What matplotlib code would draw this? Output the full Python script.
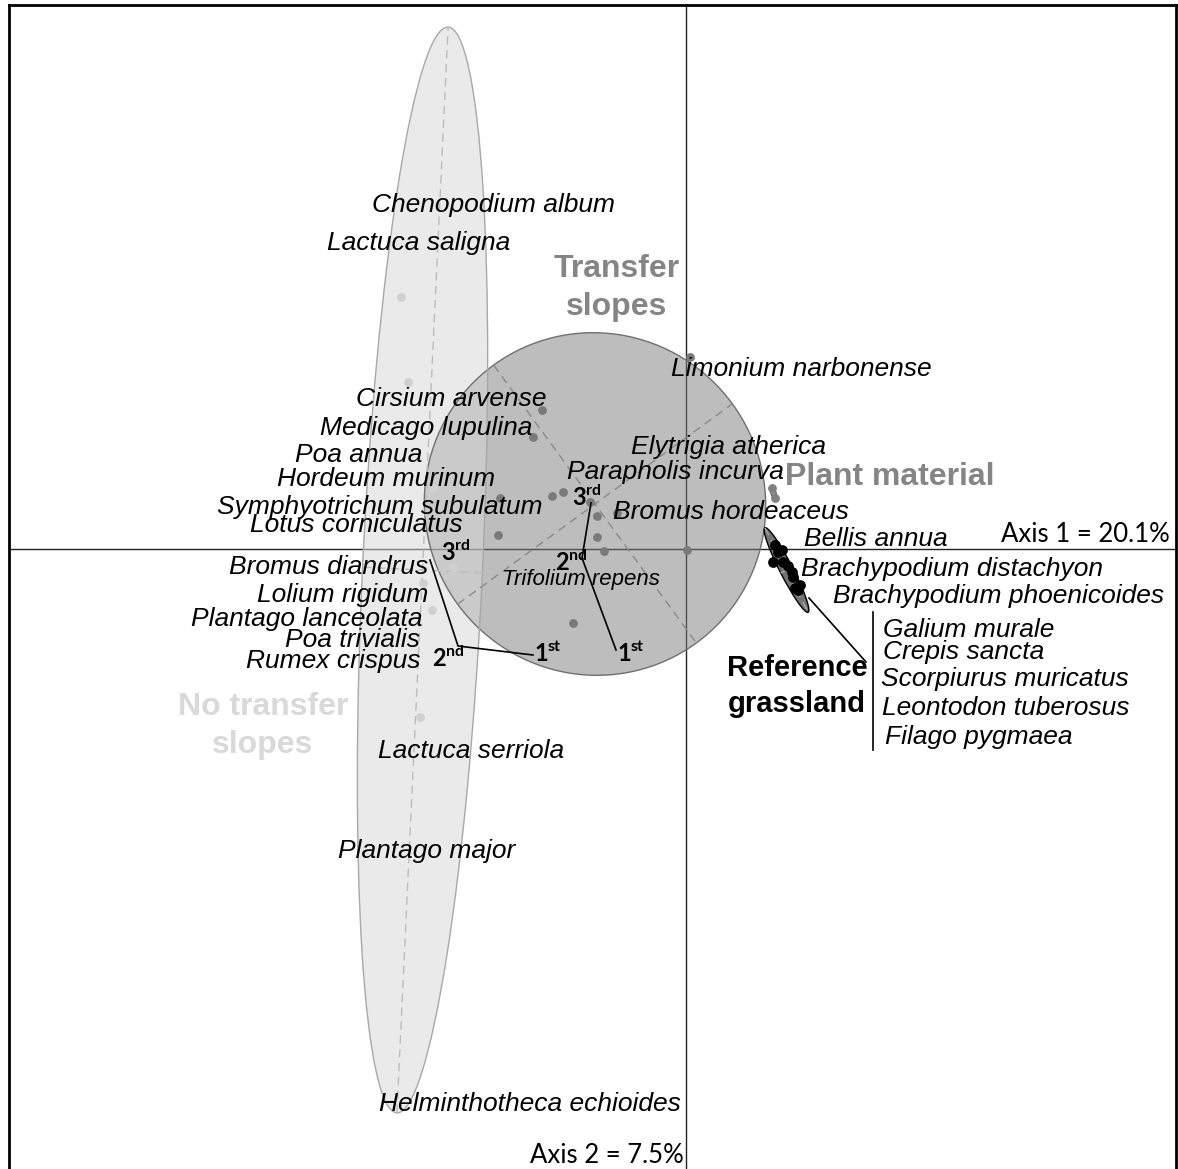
import numpy as np
import matplotlib
matplotlib.use('Agg')
import matplotlib.pyplot as plt
from matplotlib.patches import Ellipse

# Species labels (ordination scores, axis 1 / axis 2)
species = ['Chenopodium album', 'Lactuca saligna', 'Limonium narbonense', 'Cirsium arvense',
           'Medicago lupulina', 'Poa annua', 'Elytrigia atherica', 'Hordeum murinum',
           'Parapholis incurva', 'Symphyotrichum subulatum', 'Bromus hordeaceus',
           'Lotus corniculatus', 'Bellis annua', 'Bromus diandrus', 'Brachypodium distachyon',
           'Brachypodium phoenicoides', 'Lolium rigidum', 'Plantago lanceolata', 'Galium murale',
           'Poa trivialis', 'Crepis sancta', 'Rumex crispus', 'Scorpiurus muricatus',
           'Leontodon tuberosus', 'Filago pygmaea', 'Lactuca serriola', 'Plantago major',
           'Helminthotheca echioides']
species_x = [-1.92, -2.67, 1.15, -2.35, -2.60, -3.27, 0.43, -3.00, -0.11, -3.06, 0.45, -3.30,
             1.90, -3.57, 2.66, 3.13, -3.43, -3.79, 2.83, -3.33, 2.78, -3.53, 3.19, 3.20, 2.93,
             -2.15, -2.59, -1.56]
species_y = [3.44, 3.06, 1.80, 1.50, 1.21, 0.94, 1.02, 0.70, 0.77, 0.42, 0.37, 0.24, 0.10,
             -0.18, -0.20, -0.47, -0.46, -0.70, -0.81, -0.91, -1.03, -1.12, -1.30, -1.59,
             -1.88, -2.02, -3.02, -5.55]
small_species = ['Trifolium repens']
small_x = [-1.05]
small_y = [-0.31]

# Site scores per group
no_transfer_x = [-2.85, -2.78, -2.53, -2.34, -2.33, -2.63, -2.54, -2.66]
no_transfer_y = [2.52, 1.67, 0.61, 0.06, -0.18, -0.34, -0.61, -1.68]
transfer_x = [-1.44, -1.53, -1.86, -1.88, -1.34, -1.23, -0.96, -0.89, -0.89, -0.82, -1.13,
              -0.69, 0.01, 0.04]
transfer_y = [1.39, 1.12, 0.51, 0.14, 0.53, 0.57, 0.47, 0.33, 0.12, -0.02, -0.74, 0.36,
              -0.01, 1.92]
plant_x = [0.86, 0.89]
plant_y = [0.61, 0.51]
reference_x = [0.89, 0.96, 0.87, 0.97, 1.06, 1.07, 1.14, 1.09, 1.12, 1.02, 0.92]
reference_y = [0.04, -0.01, -0.13, -0.13, -0.23, -0.28, -0.36, -0.39, -0.41, -0.17, -0.03]

# Group ellipses: centre x, centre y, width, height, angle
ell_groups = ['No transfer slopes', 'Transfer slopes', 'Reference grassland', 'Plant material']
ell_cx = [-2.635, -0.91, 1.005, 0.875]
ell_cy = [-0.21, 0.45, -0.21, 0.56]
ell_w = [10.87, 3.44, 0.95, 0.13]
ell_h = [1.20, 3.40, 0.13, 0.05]
ell_ang = [87.3, -53.9, -62.9, -73.0]

# Trajectories (1st -> 2nd -> 3rd years)
traj_left_x = [-2.56, -2.28, -1.53]
traj_left_y = [-0.11, -0.97, -1.06]
traj_right_x = [-0.95, -1.04, -0.70]
traj_right_y = [0.46, -0.09, -1.01]
ordinal_txt = [('3', 'rd'), ('2', 'nd'), ('1', 'st'), ('3', 'rd'), ('2', 'nd'), ('1', 'st')]
ordinal_x = [-2.34, -2.43, -1.41, -1.03, -1.20, -0.58]
ordinal_y = [-0.03, -1.09, -1.04, 0.52, -0.13, -1.04]

fig = plt.figure(figsize=(11.78, 11.69), dpi=100)
ax = fig.add_axes([9 / 1178, 0, 1167 / 1178, 1 - 5 / 1169])
ax.set_xlim(-6.77, 4.90)
ax.set_ylim(-6.20, 5.44)
ax.set_xticks([])
ax.set_yticks([])
for s in ['left', 'top', 'right']:
    ax.spines[s].set_linewidth(2)
ax.spines['bottom'].set_visible(False)

# Axes lines
ax.axhline(0, color='#222222', lw=1, zorder=1)
ax.axvline(0, color='#222222', lw=1, zorder=1)

# Ellipses (draw order: transfer, no transfer, plant, reference)
styles = {
    'Transfer slopes': dict(fc='#7d7d7d', ec='#707070', alpha=0.5, axc='#8a8a8a'),
    'No transfer slopes': dict(fc='#d7d7d7', ec='#a8a8a8', alpha=0.5, axc='#bcbcbc'),
    'Plant material': dict(fc='#808080', ec='#606060', alpha=0.8, axc='#909090'),
    'Reference grassland': dict(fc='#000000', ec='#000000', alpha=0.55, axc='#aaaaaa'),
}
for name in ['Transfer slopes', 'No transfer slopes', 'Plant material', 'Reference grassland']:
    i = ell_groups.index(name)
    st = styles[name]
    e = Ellipse((ell_cx[i], ell_cy[i]), ell_w[i], ell_h[i], angle=ell_ang[i],
                facecolor=st['fc'], edgecolor='none', alpha=st['alpha'], zorder=2)
    ax.add_patch(e)
    e2 = Ellipse((ell_cx[i], ell_cy[i]), ell_w[i], ell_h[i], angle=ell_ang[i],
                 facecolor='none', edgecolor=st['ec'], lw=1, zorder=2.1)
    ax.add_patch(e2)
    a = np.deg2rad(ell_ang[i])
    for half, ang in [(ell_w[i] / 2, a), (ell_h[i] / 2, a + np.pi / 2)]:
        dx, dy = half * np.cos(ang), half * np.sin(ang)
        ax.plot([ell_cx[i] - dx, ell_cx[i] + dx], [ell_cy[i] - dy, ell_cy[i] + dy],
                ls=(0, (6, 4)), color=st['axc'], lw=1, zorder=2.2)

# Points
ax.scatter(transfer_x, transfer_y, s=40, color='#7a7a7a', zorder=3, linewidths=0)
ax.scatter(no_transfer_x, no_transfer_y, s=40, color='#d0d0d0', zorder=3, linewidths=0)
ax.scatter(plant_x, plant_y, s=40, color='#808080', zorder=3, linewidths=0)
ax.scatter(reference_x, reference_y, s=60, color='black', zorder=3, linewidths=0)

# Trajectories
ax.plot(traj_left_x, traj_left_y, color='black', lw=1.2, zorder=4)
ax.plot(traj_right_x, traj_right_y, color='black', lw=1.2, zorder=4)
ax.plot([1.23, 1.80], [-0.49, -1.13], color='black', lw=1.2, zorder=4)
ax.plot([1.87, 1.87], [-0.63, -2.01], color='black', lw=1.2, zorder=4)

# Species names
for name, x, y in zip(species, species_x, species_y):
    ax.text(x, y, name, fontsize=19, style='italic', family='Liberation Sans',
            ha='center', va='center', zorder=5)
for name, x, y in zip(small_species, small_x, small_y):
    ax.text(x, y, name, fontsize=16, style='italic', family='Liberation Sans',
            ha='center', va='center', zorder=5)

# Group labels
ax.text(-0.69, 2.61, 'Transfer\nslopes', fontsize=23, weight='bold', color='#858585',
        family='Liberation Sans', ha='center', va='center', linespacing=1.32, zorder=5)
ax.text(2.04, 0.72, 'Plant material', fontsize=23, weight='bold', color='#858585',
        family='Liberation Sans', ha='center', va='center', zorder=5)
ax.text(-4.23, -1.77, 'No transfer\nslopes', fontsize=23, weight='bold', color='#d9d9d9',
        family='Liberation Sans', ha='center', va='center', linespacing=1.32, zorder=5)
ax.text(1.11, -1.37, 'Reference\ngrassland', fontsize=21, weight='bold', color='black',
        family='Liberation Sans', ha='center', va='center', linespacing=1.4, zorder=5)

# Ordinal labels
for (num, suf), x, y in zip(ordinal_txt, ordinal_x, ordinal_y):
    ax.text(x + 0.03, y - 0.08, num, fontsize=17, weight='bold', family='Lato',
            ha='right', va='baseline', zorder=6)
    ax.text(x + 0.03, y + 0.02, suf, fontsize=11.5, weight='bold', family='Lato',
            ha='left', va='baseline', zorder=6)

# Axis labels
ax.text(4.84, 0.02, 'Axis 1 = 20.1%', fontsize=18.5, family='Lato', ha='right', va='bottom')
ax.text(-0.02, -6.19, 'Axis 2 = 7.5%', fontsize=18.5, family='Lato', ha='right', va='bottom')

fig.savefig('out.png', dpi=100)
